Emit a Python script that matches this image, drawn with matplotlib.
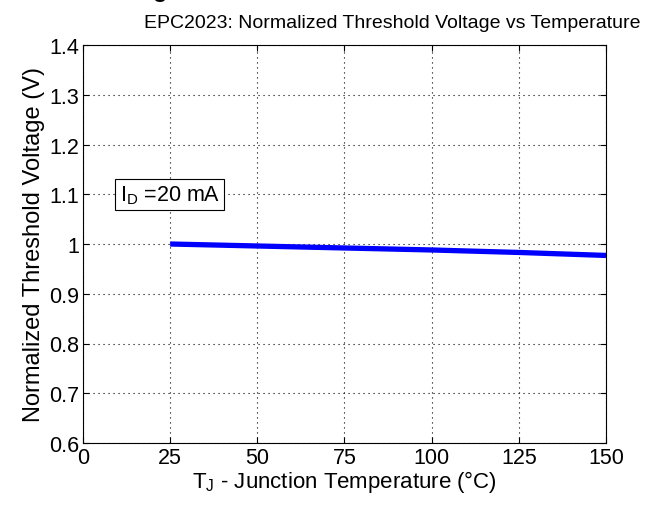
import matplotlib
matplotlib.use("Agg")
import matplotlib.pyplot as plt

plt.rcParams['font.family'] = ['Liberation Sans', 'DejaVu Sans']
plt.rcParams['mathtext.fontset'] = 'custom'
plt.rcParams['mathtext.rm'] = 'Liberation Sans'

temp = [25, 50, 75, 100, 125, 150]
vth_norm = [1.0, 0.996, 0.992, 0.988, 0.983, 0.977]
xticks = [0, 25, 50, 75, 100, 125, 150]
yticks = [0.6, 0.7, 0.8, 0.9, 1.0, 1.1, 1.2, 1.3, 1.4]
ytick_labels = ['0.6', '0.7', '0.8', '0.9', '1', '1.1', '1.2', '1.3', '1.4']

fig = plt.figure(figsize=(6.47, 5.10), dpi=100)
ax = fig.add_axes([83/647, 1-444/510, (606-83)/647, (444-46)/510])

ax.plot(temp, vth_norm, color='#0000ff', lw=3.8, solid_capstyle='butt')
ax.set_xlim(0, 150)
ax.set_ylim(0.6, 1.4)
ax.set_xticks(xticks)
ax.set_yticks(yticks)
ax.set_yticklabels(ytick_labels)
ax.tick_params(direction='in', labelsize=15.5, length=4, top=True, right=True, pad=3)
ax.grid(True, color='black', linestyle=(0, (1, 3.5)), lw=0.8)
for s in ax.spines.values():
    s.set_linewidth(0.8)

ax.text(0.591, 1 + 18/398, 'EPC2023: Normalized Threshold Voltage vs Temperature', fontsize=14,
        ha='center', va='baseline', transform=ax.transAxes)
ax.set_xlabel(r'T$_{\mathregular{J}}$ - Junction Temperature (°C)', fontsize=16, labelpad=0)
ax.set_ylabel('Normalized Threshold Voltage (V)', fontsize=17, labelpad=3)

ax.text(10.5, 1.1, r'I$_{\mathregular{D}}$ =20 mA', fontsize=15.5, va='center', ha='left',
        bbox=dict(boxstyle='square,pad=0.2', fc='white', ec='black', lw=0.8))

# cut-off heading above the plot
fig.text(0.247, 1 + 3/510, 'g', fontsize=17, fontweight='bold', ha='center', va='baseline')

fig.savefig('out.png', dpi=100)
